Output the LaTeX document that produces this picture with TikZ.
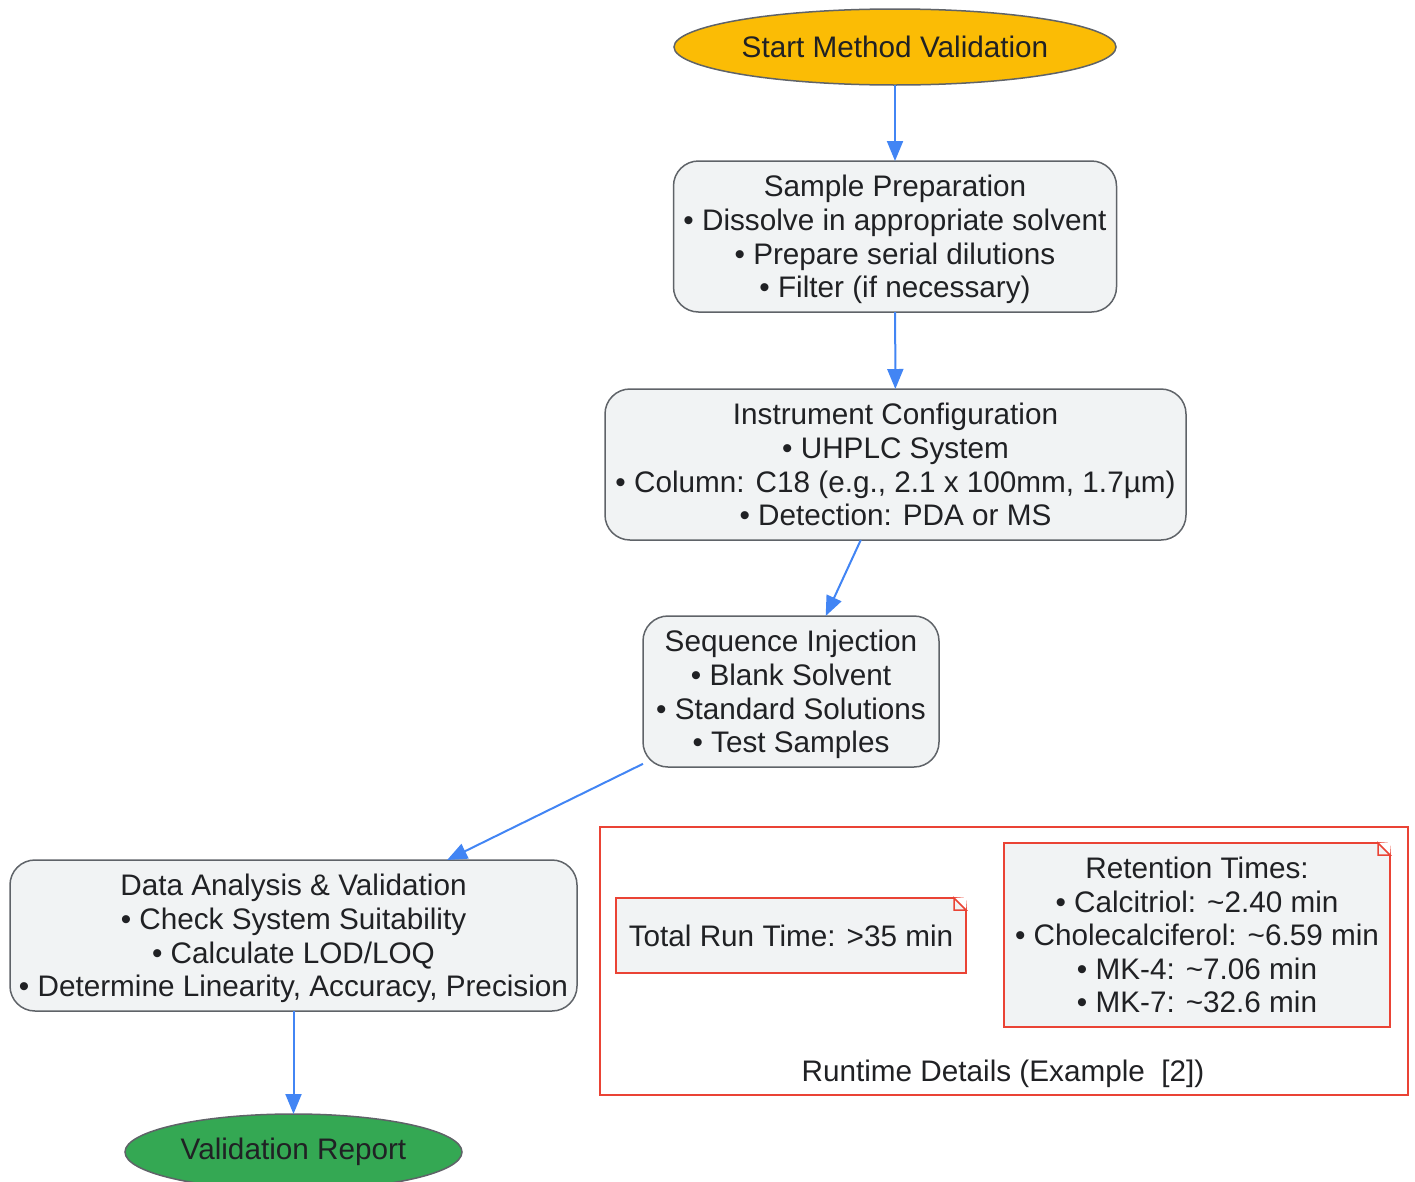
\documentclass[tikz,border=0pt]{standalone}
\usepackage{fontspec}
\setmainfont{Liberation Sans}
\usetikzlibrary{arrows.meta,shapes.geometric}

\definecolor{gtext}{HTML}{202124}
\definecolor{gline}{HTML}{5F6368}
\definecolor{gfill}{HTML}{F1F3F4}
\definecolor{gblue}{HTML}{4285F4}
\definecolor{gred}{HTML}{EA4335}
\definecolor{gyellow}{HTML}{FBBC05}
\definecolor{ggreen}{HTML}{34A853}

% folded corner of a note node
\newcommand{\notefold}[1]{%
	\fill[white] ([xshift=-12pt]#1.north -| #1.east)
		-- ([xshift=1pt,yshift=1pt]#1.north -| #1.east)
		-- ([yshift=-12pt]#1.north -| #1.east) -- cycle;
	\draw[gred,line width=1.5pt,line join=miter]
		([xshift=-12pt]#1.north -| #1.east)
		-- ([yshift=-12pt]#1.north -| #1.east)
		-- ([xshift=-12pt,yshift=-12pt]#1.north -| #1.east)
		-- cycle;}

\begin{document}
\begin{tikzpicture}[x=1pt,y=-1pt,
	font=\fontsize{29.7}{33.6}\selectfont,text=gtext,
	terminal/.style={shape=ellipse,draw=gline,line width=1.5pt,inner sep=0pt,outer sep=0pt,minimum height=76pt},
	stepbox/.style={shape=rectangle,rounded corners=25pt,draw=gline,fill=gfill,line width=1.5pt,
		align=center,inner sep=0pt,outer sep=0pt,minimum height=151pt,text depth=-4pt},
	note/.style={shape=rectangle,draw=gred,fill=gfill,line width=1.5pt,align=center,
		inner sep=0pt,outer sep=0pt,text depth=0pt},
	flow/.style={-{Triangle[length=20pt,width=16pt]},color=gblue,line width=2pt}]

	\useasboundingbox (0,0) rectangle (1415,1181);

	% main flow
	\node[terminal,fill=gyellow,minimum width=442pt] (start) at (895,47) {Start Method Validation};
	\node[stepbox,minimum width=443pt] (prep) at (895,236.5)
		{Sample Preparation\\• Dissolve in appropriate solvent\\• Prepare serial dilutions\\• Filter (if necessary)};
	\node[stepbox,minimum width=581pt] (config) at (895.5,464.5)
		{Instrument Configuration\\• UHPLC System\\• Column: C18 (e.g., 2.1 x 100mm, 1.7µm)\\• Detection: PDA or MS};
	\node[stepbox,minimum width=296pt] (inject) at (791,691.5)
		{Sequence Injection\\• Blank Solvent\\• Standard Solutions\\• Test Samples};
	\node[stepbox,minimum width=567pt] (analysis) at (293.5,935.5)
		{Data Analysis \& Validation\\• Check System Suitability\\• Calculate LOD/LOQ\\• Determine Linearity, Accuracy, Precision};
	\node[terminal,fill=ggreen,minimum width=337pt] (report) at (293.5,1152) {Validation Report};

	% runtime cluster
	\node[draw=gred,line width=1.5pt,inner sep=0pt,minimum width=808pt,minimum height=268pt] (runtime) at (1004,961) {};
	\node (runlabel) at (1003,1074) {Runtime Details (Example\ \ [2])};
	\node[note,minimum width=350pt,minimum height=75pt] (total) at (791,935.5) {Total Run Time: >35 min};
	\node[note,minimum width=386pt,minimum height=184pt,text depth=-5pt] (retention) at (1197,935)
		{Retention Times:\\• Calcitriol: \textasciitilde2.40 min\\• Cholecalciferol: \textasciitilde6.59 min\\• MK-4: \textasciitilde7.06 min\\• MK-7: \textasciitilde32.6 min};
	\notefold{total}
	\notefold{retention}

	\path[flow] (start) edge (prep);
	\path[flow] (prep) edge (config);
	\path[flow] (config) edge (inject);
	\path[flow] (inject) edge (analysis);
	\path[flow] (analysis) edge (report);
\end{tikzpicture}
\end{document}
